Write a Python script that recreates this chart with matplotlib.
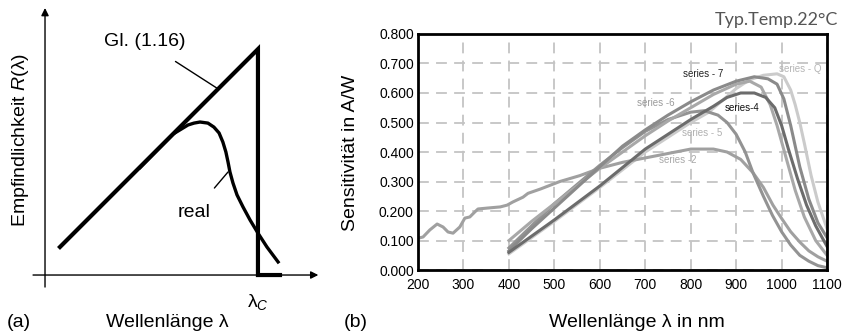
import matplotlib
matplotlib.use("Agg")
import matplotlib.pyplot as plt

plt.rcParams['font.family'] = ['Liberation Sans', 'DejaVu Sans']
plt.rcParams['mathtext.fontset'] = 'custom'
plt.rcParams['mathtext.it'] = 'Liberation Sans:italic'
plt.rcParams['mathtext.rm'] = 'Liberation Sans'

# ---- panel (a): schematic responsivity ----
ideal_x = [0.55, 7.83, 7.83, 8.64]
ideal_y = [1.05, 8.46, 0.0, 0.0]
real_x = [3.5, 4.71, 5.26, 5.48, 5.70, 5.99, 6.21, 6.40, 6.54, 6.65, 6.73, 6.80, 6.91, 7.06, 7.28,
          7.54, 7.83, 8.16, 8.57]
real_y = [4.03, 5.28, 5.62, 5.69, 5.73, 5.69, 5.54, 5.32, 4.98, 4.61, 4.23, 3.86, 3.45, 3.00, 2.55,
          2.06, 1.57, 1.05, 0.49]
lambda_c = 7.83

# ---- panel (b): spectral sensitivity, A/W ----
s2_nm = [200, 211, 226, 242, 255, 266, 277, 292, 303, 314, 325, 332, 352, 381, 396, 409, 431, 442,
         470, 512, 556, 600, 650, 700, 750, 800, 850, 880, 910, 937, 960, 981, 1000, 1020, 1040,
         1060, 1080, 1100]
s2_val = [0.108, 0.112, 0.136, 0.156, 0.146, 0.129, 0.125, 0.146, 0.176, 0.180, 0.197, 0.207, 0.210,
          0.214, 0.220, 0.231, 0.247, 0.260, 0.275, 0.300, 0.320, 0.345, 0.365, 0.380, 0.395, 0.410,
          0.410, 0.400, 0.375, 0.330, 0.280, 0.220, 0.175, 0.130, 0.095, 0.065, 0.045, 0.030]

s5_nm = [400, 450, 500, 550, 600, 650, 700, 750, 800, 830, 860, 880, 900, 920, 937, 960, 980, 1000,
         1020, 1040, 1060, 1080, 1100]
s5_val = [0.075, 0.150, 0.225, 0.290, 0.355, 0.415, 0.470, 0.510, 0.535, 0.540, 0.525, 0.500, 0.460,
          0.400, 0.330, 0.250, 0.185, 0.130, 0.085, 0.050, 0.030, 0.015, 0.008]

s6_nm = [400, 450, 500, 550, 600, 650, 700, 750, 800, 850, 900, 930, 955, 975, 990, 1010, 1030, 1050,
         1075, 1100]
s6_val = [0.100, 0.165, 0.225, 0.285, 0.345, 0.400, 0.455, 0.505, 0.550, 0.595, 0.630, 0.640, 0.620,
          0.560, 0.490, 0.380, 0.270, 0.180, 0.100, 0.050]

s7_nm = [400, 450, 500, 550, 600, 650, 700, 750, 800, 850, 900, 940, 970, 990, 1005, 1020, 1040, 1060,
         1080, 1100]
s7_val = [0.065, 0.140, 0.210, 0.280, 0.350, 0.420, 0.475, 0.525, 0.570, 0.610, 0.640, 0.655, 0.648,
          0.630, 0.580, 0.490, 0.350, 0.240, 0.160, 0.110]

s4_nm = [400, 500, 600, 700, 800, 850, 880, 910, 940, 965, 985, 1000, 1015, 1035, 1055, 1075, 1100]
s4_val = [0.060, 0.170, 0.285, 0.410, 0.510, 0.555, 0.585, 0.600, 0.600, 0.585, 0.550, 0.490, 0.410,
          0.310, 0.220, 0.150, 0.080]

sq_nm = [400, 500, 600, 700, 800, 840, 870, 900, 930, 960, 990, 1005, 1020, 1030, 1040, 1050, 1065,
         1080, 1100]
sq_val = [0.055, 0.165, 0.280, 0.400, 0.500, 0.535, 0.575, 0.615, 0.645, 0.660, 0.665, 0.655, 0.610,
          0.560, 0.500, 0.430, 0.320, 0.230, 0.140]

x_ticks = [200, 300, 400, 500, 600, 700, 800, 900, 1000, 1100]
y_ticks = [0.0, 0.1, 0.2, 0.3, 0.4, 0.5, 0.6, 0.7, 0.8]

fig = plt.figure(figsize=(8.44, 3.33), dpi=100)

# panel (a)
ax_a = fig.add_axes([0.034, 0.126, 0.348, 0.874])
ax_a.set_xlim(-0.6, 10.2)
ax_a.set_ylim(-0.6, 10.3)
ax_a.axis('off')
ax_a.annotate('', xy=(0, 10.0), xytext=(0, -0.45),
              arrowprops=dict(arrowstyle='-|>', lw=1.0, color='k', mutation_scale=11, shrinkA=0, shrinkB=0))
ax_a.annotate('', xy=(10.05, 0), xytext=(-0.44, 0),
              arrowprops=dict(arrowstyle='-|>', lw=1.0, color='k', mutation_scale=11, shrinkA=0, shrinkB=0))
ax_a.plot(ideal_x, ideal_y, color='k', lw=3, solid_joinstyle='miter')
ax_a.plot(real_x, real_y, color='k', lw=2.4, solid_joinstyle='round')
ax_a.annotate('Gl. (1.16)', xy=(6.32, 7.0), xytext=(3.68, 8.73), ha='center', va='center', fontsize=14,
              arrowprops=dict(arrowstyle='-', lw=1.0, color='k', shrinkA=11, shrinkB=0))
ax_a.annotate('real', xy=(6.73, 3.86), xytext=(5.48, 2.36), ha='center', va='center', fontsize=14,
              arrowprops=dict(arrowstyle='-', lw=1.0, color='k', shrinkA=12, shrinkB=0))
ax_a.text(lambda_c, -0.65, 'λ$_{\\mathit{C}}$', ha='center', va='top', fontsize=14)

fig.text(0.024, 0.58, 'Empfindlichkeit $R$(λ)', rotation=90, ha='center', va='center', fontsize=14)
fig.text(0.022, 0.033, '(a)', ha='center', va='center', fontsize=14)
fig.text(0.198, 0.033, 'Wellenlänge λ', ha='center', va='center', fontsize=14)

# panel (b)
ax = fig.add_axes([0.4953, 0.189, 0.4846, 0.709])
ax.plot(sq_nm, sq_val, color='#cbcbcb', lw=2.2)
ax.plot(s2_nm, s2_val, color='#a0a0a0', lw=2.2)
ax.plot(s5_nm, s5_val, color='#939393', lw=2.2)
ax.plot(s6_nm, s6_val, color='#a8a8a8', lw=2.2)
ax.plot(s7_nm, s7_val, color='#8a8a8a', lw=2.2)
ax.plot(s4_nm, s4_val, color='#6c6c6c', lw=2.2)

ax.set_xlim(200, 1100)
ax.set_ylim(0, 0.8)
ax.set_xticks(x_ticks)
ax.set_yticks(y_ticks)
ax.set_xticklabels([str(v) for v in x_ticks], fontsize=10)
ax.set_yticklabels(['%.3f' % v for v in y_ticks], fontsize=10)
ax.tick_params(axis='x', length=0, pad=6)
ax.tick_params(axis='y', length=0, pad=3)
ax.grid(True, color='#c4c4c4', lw=1.3, ls=(0, (6, 4)))
ax.set_axisbelow(True)
for sp in ax.spines.values():
    sp.set_linewidth(2.0)

lab_kw = dict(fontsize=7, ha='center', va='center')
ax.text(827, 0.666, 'series - 7', color='#222222', **lab_kw)
ax.text(1041, 0.680, 'series - Q', color='#b5b5b5', **lab_kw)
ax.text(724, 0.566, 'series -6', color='#9a9a9a', **lab_kw)
ax.text(913, 0.550, 'series-4', color='#111111', **lab_kw)
ax.text(825, 0.464, 'series - 5', color='#b0b0b0', **lab_kw)
ax.text(772, 0.373, 'series -2', color='#a8a8a8', **lab_kw)

fig.text(0.415, 0.54, 'Sensitivität in A/W', rotation=90, ha='center', va='center', fontsize=14)
fig.text(0.422, 0.033, '(b)', ha='center', va='center', fontsize=14)
fig.text(0.754, 0.033, 'Wellenlänge λ in nm', ha='center', va='center', fontsize=14)
fig.text(0.993, 0.94, 'Typ.Temp.22°C', ha='right', va='center', fontsize=13, color='#555555',
         family=['Lato', 'DejaVu Sans'])

fig.savefig('out.png', dpi=100)
